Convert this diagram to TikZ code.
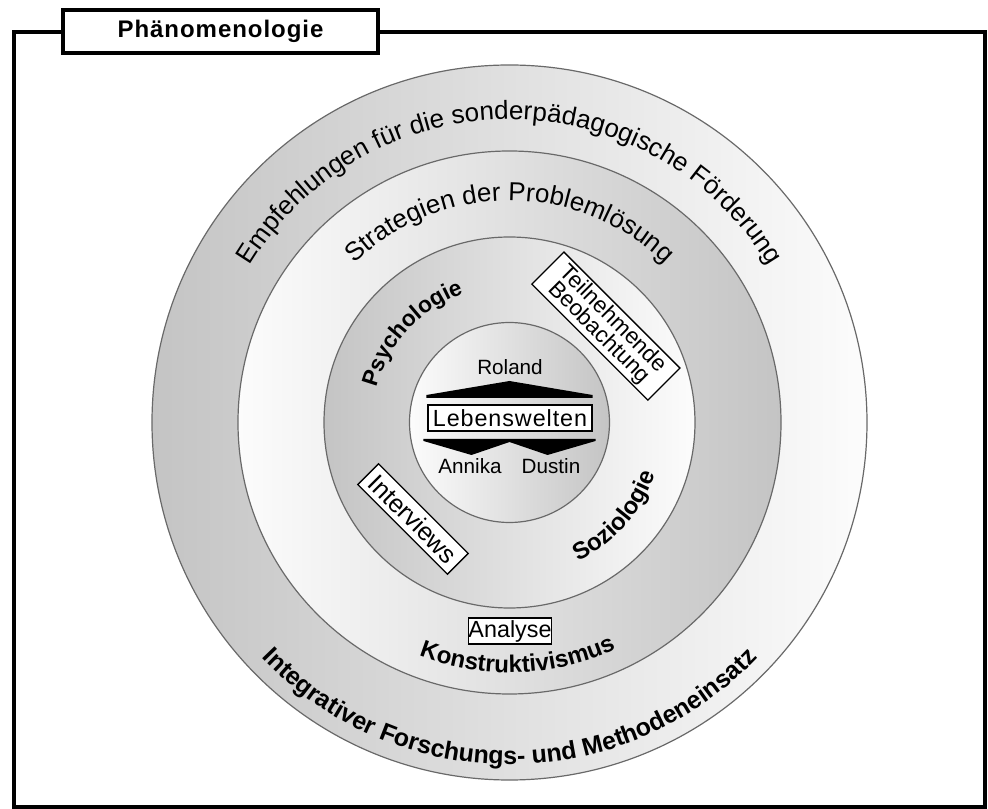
\documentclass[tikz,border=0pt]{standalone}
\usepackage{fontspec}
\setmainfont{Liberation Sans}
\usetikzlibrary{decorations.text}
\definecolor{ringGray}{RGB}{196,196,196}
\definecolor{ringWhite}{RGB}{252,252,252}
\definecolor{ringEdge}{RGB}{105,105,105}
\tikzset{
  ring/.style={draw=ringEdge, line width=0.9pt},
  arctext/.style={decorate, decoration={text along path, text align=center, text={#1}}},
  labelbox/.style={draw, line width=1pt, fill=white, inner sep=1pt},
}
\begin{document}
\begin{tikzpicture}[x=0.75pt, y=0.75pt]
	\useasboundingbox (-509.5,-386.5) rectangle (478.5,422.5);
	% frame with title tab
	\draw[line width=2.4pt] (-131.5,390.5) -- (475.5,390.5) -- (475.5,-384.5) -- (-495.5,-384.5) -- (-495.5,390.5) -- (-446.5,390.5);
	\node[draw, line width=2.6pt, fill=white, minimum width=236pt, minimum height=32pt, font=\bfseries\fontsize{18}{18}\selectfont\addfontfeature{LetterSpace=4}] (title) at (-289,391) {Phänomenologie};
	% rings
	\draw[ring, left color=ringGray, right color=ringWhite] (0,0) circle (357.5);
	\draw[ring, left color=ringWhite, right color=ringGray] (0,0) circle (271.5);
	\draw[ring, left color=ringGray, right color=ringWhite] (0,0) circle (185.5);
	\draw[ring, left color=ringWhite, right color=ringGray] (0,0) circle (100);
	% texts along the rings
	\path[arctext={|\fontsize{19.5}{19.5}\selectfont|Empfehlungen für die sonderpädagogische Förderung}] (178:303) arc[start angle=178, end angle=2, radius=303];
	\path[arctext={|\fontsize{19.5}{19.5}\selectfont|Strategien der Problemlösung}] (170:222) arc[start angle=170, end angle=10, radius=222];
	\path[arctext={|\bfseries\fontsize{17}{17}\selectfont|Psychologie}] (190:137) arc[start angle=190, end angle=85, radius=137];
	\path[arctext={|\bfseries\fontsize{18}{18}\selectfont|Soziologie}] (-96:155) arc[start angle=-96, end angle=13, radius=155];
	\path[arctext={|\bfseries\fontsize{18}{18}\selectfont|Konstruktivismus}] (-150:250) arc[start angle=-150, end angle=-26, radius=250];
	\path[arctext={|\bfseries\fontsize{18.7}{18.7}\selectfont|Integrativer Forschungs- und Methodeneinsatz}] (-175:342) arc[start angle=-175, end angle=-5, radius=342];
	% centre
	\node[font=\fontsize{15.5}{15.5}\selectfont] (roland) at (0.5,55.5) {Roland};
	\fill (-83,24.5) -- (-83,27.5) -- (0,41.5) -- (83,27.5) -- (83,24.5) -- cycle;
	\node[labelbox, line width=1.3pt, minimum width=123pt, minimum height=20pt, inner sep=0pt, font=\fontsize{17.5}{17.5}\selectfont\addfontfeature{LetterSpace=4}] (leben) at (0.5,4.5) {Lebenswelten};
	\fill (-86,-16.5) -- (86,-16.5) -- (86,-18.5) -- (38,-32.5) -- (0,-19.5) -- (-38,-32.5) -- (-86,-18.5) -- cycle;
	\node[font=\fontsize{15.5}{15.5}\selectfont] (annika) at (-39.5,-43.5) {Annika};
	\node[font=\fontsize{15.5}{15.5}\selectfont] (dustin) at (41.5,-43.5) {Dustin};
	% method boxes
	\node[labelbox, rotate=-45, minimum width=123pt, minimum height=34pt, inner sep=0pt, align=center, font=\fontsize{17}{15}\selectfont] (beob) at (45:136.3) {Teilnehmende\\Beobachtung};
	\node[labelbox, rotate=-45, minimum width=95pt, minimum height=22pt, inner sep=0pt, font=\fontsize{19}{19}\selectfont] (interviews) at (225:136.5) {Interviews};
	\node[labelbox, minimum width=62pt, minimum height=19.5pt, inner sep=0pt, font=\fontsize{17.5}{17.5}\selectfont] (analyse) at (0.5,-208.5) {Analyse};
\end{tikzpicture}
\end{document}
